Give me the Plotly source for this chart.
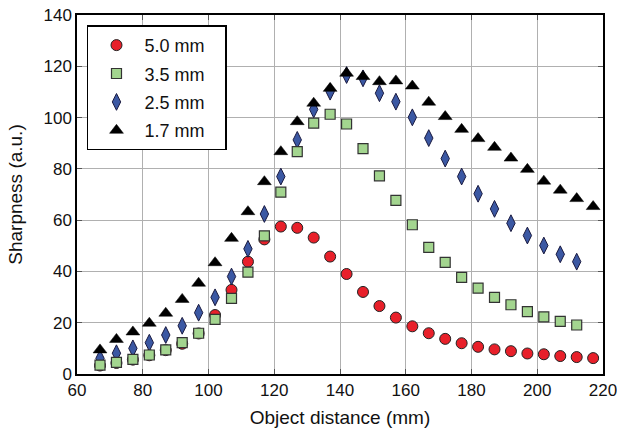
import plotly.graph_objects as go

x_all = [67, 72, 77, 82, 87, 92, 97, 102, 107, 112, 117, 122, 127, 132, 137, 142,
         147, 152, 157, 162, 167, 172, 177, 182, 187, 192, 197, 202, 207, 212, 217]

labels = ["5.0 mm", "3.5 mm", "2.5 mm", "1.7 mm"]

y_50 = [3.3, 4.3, 5.6, 7.3, 9.3, 11.8, 15.8, 23.0, 32.8, 43.8, 52.5, 57.5, 57.0, 53.2,
        45.8, 39.0, 32.0, 26.5, 22.0, 18.6, 15.9, 13.7, 12.0, 10.6, 9.6, 8.9, 8.0, 7.7,
        7.0, 6.6, 6.2]
y_35 = [3.5, 4.5, 5.7, 7.4, 9.4, 12.2, 15.9, 21.3, 29.5, 39.7, 53.9, 70.9, 86.7, 97.8,
        101.3, 97.5, 87.9, 77.3, 67.7, 58.2, 49.4, 43.5, 37.7, 33.5, 29.9, 27.0, 24.3,
        22.3, 20.5, 19.1]
y_25 = [6.1, 8.1, 10.0, 12.2, 15.2, 18.8, 23.9, 29.9, 38.0, 48.8, 62.4, 77.0, 91.3,
        103.2, 110.1, 116.6, 115.3, 109.5, 106.2, 100.1, 92.0, 84.0, 77.0, 70.3, 64.4,
        58.8, 54.0, 50.1, 46.7, 43.8]
y_17 = [9.4, 13.5, 16.4, 19.8, 23.7, 29.1, 35.4, 43.4, 52.9, 63.3, 75.0, 86.7, 98.4,
        105.6, 111.4, 117.3, 116.0, 114.0, 114.3, 112.3, 106.0, 100.4, 95.4, 91.8, 88.4,
        84.2, 79.8, 75.2, 71.7, 68.4, 65.3]

x_ticks = [60, 80, 100, 120, 140, 160, 180, 200, 220]
y_ticks = [0, 20, 40, 60, 80, 100, 120, 140]

FONT = "Liberation Sans, Arial, Helvetica, sans-serif"
PAD = "\u00a0" * 3

fig = go.Figure()

fig.add_trace(go.Scatter(
    x=x_all[:len(y_50)], y=y_50, mode="markers", name=labels[0] + PAD,
    legendrank=1, legendgroup="a",
    marker=dict(symbol="circle", size=11, color="#e8202a",
                line=dict(color="#222222", width=1))))
fig.add_trace(go.Scatter(
    x=x_all[:len(y_25)], y=y_25, mode="markers", name=labels[2] + PAD,
    legendrank=3, legendgroup="c",
    marker=dict(symbol="diamond-tall", size=12, color="#3b58a3",
                line=dict(color="#1a1a40", width=1))))
fig.add_trace(go.Scatter(
    x=x_all[:len(y_17)], y=y_17, mode="markers", name=labels[3] + PAD,
    legendrank=4, legendgroup="d",
    marker=dict(symbol="triangle-up", size=12, color="#000000",
                line=dict(color="#000000", width=0.5))))
fig.add_trace(go.Scatter(
    x=x_all[:len(y_35)], y=y_35, mode="markers", name=labels[1] + PAD,
    legendrank=2, legendgroup="b",
    marker=dict(symbol="square", size=10, color="#a3d58f",
                line=dict(color="#333333", width=1.2))))

fig.update_layout(
    width=617, height=430,
    margin=dict(l=77, r=14, t=15, b=56, autoexpand=False),
    paper_bgcolor="white", plot_bgcolor="white",
    font=dict(family=FONT, size=17, color="#111111"),
    showlegend=True,
    legend=dict(x=0.019, y=0.971, xanchor="left", yanchor="top",
                bgcolor="white", bordercolor="#000000", borderwidth=1.5,
                font=dict(family=FONT, size=18), itemwidth=46,
                tracegroupgap=2),
)
fig.update_xaxes(
    range=[60, 220], tickvals=x_ticks, ticktext=[str(v) for v in x_ticks],
    showgrid=True, gridcolor="#b0b0b0", gridwidth=1,
    showline=True, linecolor="#000000", linewidth=1.5, mirror="ticks",
    ticks="inside", ticklen=5, tickcolor="#555555",
    zeroline=False, automargin=True, ticklabeloverflow="allow",
    title=dict(text="Object distance (mm)", font=dict(size=19), standoff=12),
    tickfont=dict(size=17))
fig.update_yaxes(
    range=[0, 140], tickvals=y_ticks, ticktext=[str(v) for v in y_ticks],
    showgrid=True, gridcolor="#b0b0b0", gridwidth=1,
    showline=True, linecolor="#000000", linewidth=1.5, mirror="ticks",
    ticks="inside", ticklen=5, tickcolor="#555555",
    zeroline=False, automargin=True, ticklabeloverflow="allow",
    title=dict(text="Sharpness (a.u.)", font=dict(size=19), standoff=16),
    tickfont=dict(size=17))

fig.write_html("out.html",
               config={"displayModeBar": False},
               post_script="document.body.style.margin='0';"
                           "document.body.style.padding='0';")
